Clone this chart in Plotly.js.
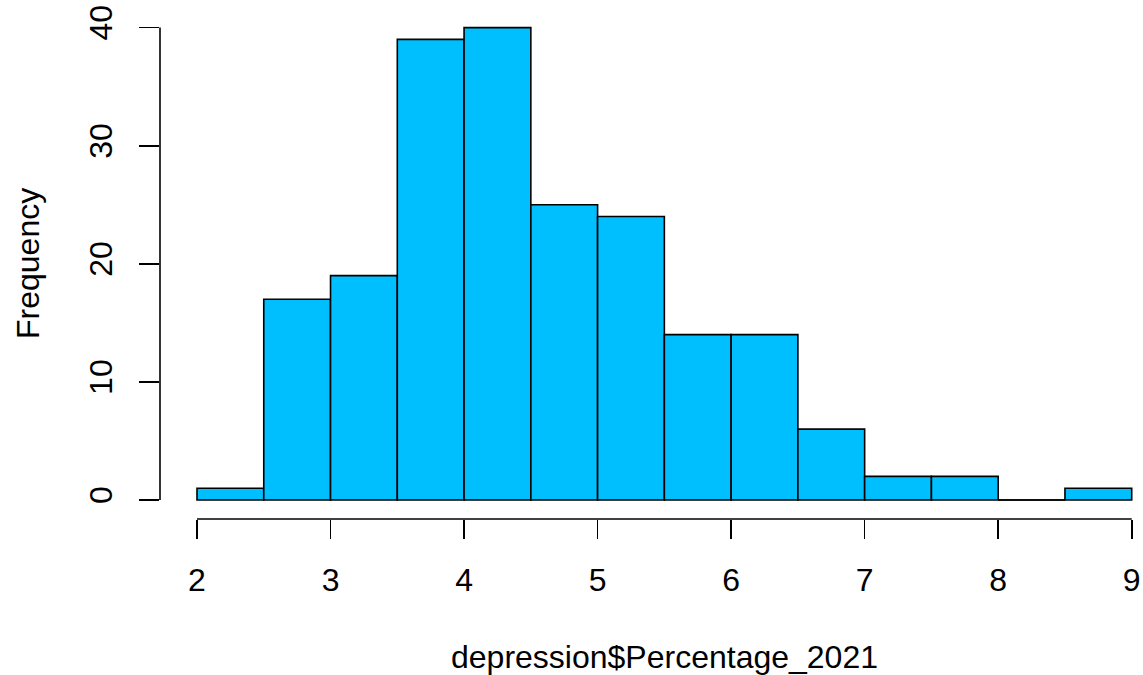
<!DOCTYPE html>
<html>
<head>
<meta charset="utf-8">
<script src="https://cdn.plot.ly/plotly-3.0.1.min.js"></script>
<style>html,body{margin:0;padding:0;background:#fff;}#chart{width:1143px;height:675px;}</style>
</head>
<body>
<div id="chart"></div>
<script>
// Histogram of depression$Percentage_2021
var breaks = [2, 2.5, 3, 3.5, 4, 4.5, 5, 5.5, 6, 6.5, 7, 7.5, 8, 8.5, 9];
var counts = [1, 17, 19, 39, 40, 25, 24, 14, 14, 6, 2, 2, 0, 1];
var xTicks = [2, 3, 4, 5, 6, 7, 8, 9];
var yTicks = [0, 10, 20, 30, 40];
var xTitle = "depression$Percentage_2021";
var yTitle = "Frequency";

var FONT = "Liberation Sans, Arial, Helvetica, sans-serif";
var FS = 32;
var centers = [], widths = [];
for (var i = 0; i < counts.length; i++) {
  centers.push((breaks[i] + breaks[i + 1]) / 2);
  widths.push(breaks[i + 1] - breaks[i]);
}

var traces = [{
  type: "bar",
  x: centers,
  y: counts,
  width: widths,
  marker: { color: "#00BFFF", line: { color: "#000000", width: 1.6 } },
  hoverinfo: "x+y"
}];

// zero-count bins are drawn by R as a flat line at 0
for (var j = 0; j < counts.length; j++) {
  if (counts[j] === 0) {
    traces.push({
      type: "scatter", mode: "lines",
      x: [breaks[j], breaks[j + 1]], y: [0, 0],
      line: { color: "#000000", width: 1.6 },
      hoverinfo: "skip", showlegend: false
    });
  }
}

var W = 1143, H = 675, L = 160, R = 0, T = 9, B = 156;
var pw = W - L - R, ph = H - T - B;
var xpx = 133.53, ypx = 11.81;
var xr0 = breaks[0] - (197 - L) / xpx;
var yr0 = -(519 - 500) / ypx;

var layout = {
  width: W, height: H,
  margin: { l: L, r: R, t: T, b: B, pad: 0, autoexpand: false },
  paper_bgcolor: "#ffffff", plot_bgcolor: "#ffffff",
  showlegend: false,
  bargap: 0,
  font: { family: FONT, size: FS, color: "#000000" },
  xaxis: {
    range: [xr0, xr0 + pw / xpx],
    tickmode: "array", tickvals: xTicks, ticktext: xTicks.map(String),
    ticks: "outside", ticklen: 19, tickwidth: 1.6, tickcolor: "#000",
    showgrid: false, zeroline: false, showline: false,
    tickfont: { family: FONT, size: FS, color: "#000" },
    ticklabelstandoff: 14
  },
  yaxis: {
    range: [yr0, yr0 + ph / ypx],
    tickmode: "array", tickvals: yTicks, ticktext: yTicks.map(String),
    ticks: "outside", ticklen: 20, tickwidth: 1.6, tickcolor: "#000",
    showgrid: false, zeroline: false, showline: false,
    tickangle: -90,
    tickfont: { family: FONT, size: FS, color: "#000" },
    ticklabelstandoff: 14
  },
  shapes: [
    { type: "line", xref: "x", yref: "paper", x0: xTicks[0], x1: xTicks[xTicks.length - 1], y0: 0, y1: 0,
      line: { color: "#000", width: 1.6 } },
    { type: "line", xref: "paper", yref: "y", x0: 0, x1: 0, y0: yTicks[0], y1: yTicks[yTicks.length - 1],
      line: { color: "#000", width: 1.6 } }
  ],
  annotations: [
    { text: xTitle, xref: "paper", yref: "paper", x: (664 - L) / pw, y: -(657 - (T + ph)) / ph,
      xanchor: "center", yanchor: "middle", showarrow: false,
      font: { family: FONT, size: FS, color: "#000" } },
    { text: yTitle, xref: "paper", yref: "paper", x: (28 - L) / pw, y: 1 - (264 - T) / ph,
      xanchor: "center", yanchor: "middle", textangle: -90, showarrow: false,
      font: { family: FONT, size: FS, color: "#000" } }
  ]
};

Plotly.newPlot("chart", traces, layout, { displayModeBar: false, staticPlot: true });
</script>
</body>
</html>
